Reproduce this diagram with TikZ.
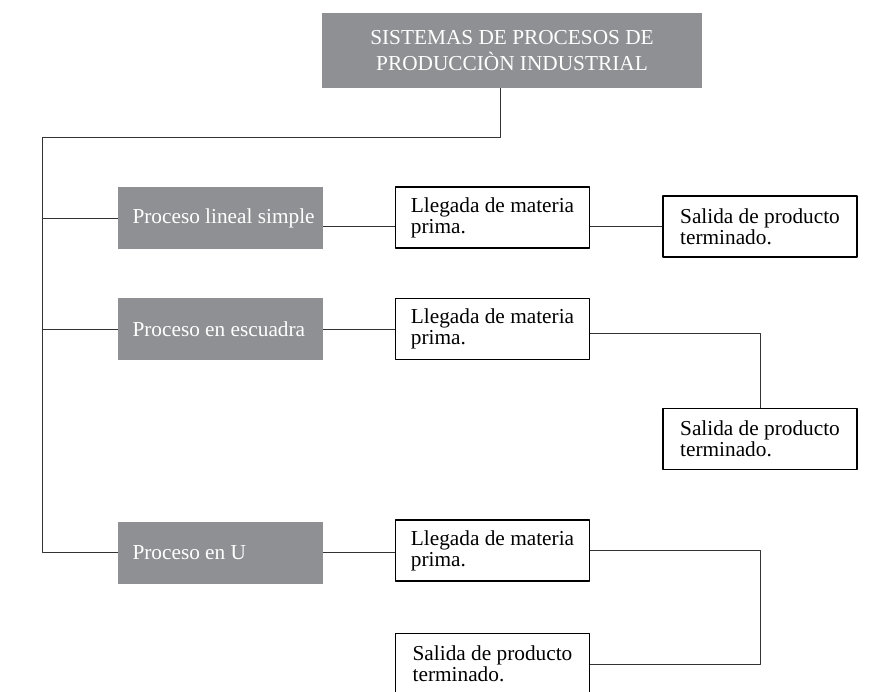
\documentclass[tikz,border=0pt]{standalone}
\usepackage{fontspec}
\setmainfont{Liberation Serif}
\definecolor{gris}{RGB}{142,144,147}
\begin{document}
\begin{tikzpicture}[x=1pt,y=-1pt,line join=round,
	chu/.style={font=\fontsize{21.3}{21}\selectfont},
	tieude/.style={fill=gris,text=white,minimum width=380pt,minimum height=75pt,align=center,font=\fontsize{21.3}{26}\selectfont},
	proceso/.style={chu,fill=gris,text=white,inner xsep=7.5pt,minimum height=62pt,
		execute at begin node={\hbox to 190pt\bgroup\hskip 7pt},execute at end node={\hfil\egroup}},
	caja/.style={chu,draw,line width=1.1pt,minimum width=194pt,minimum height=61pt,align=left},
	noi/.style={draw=black!80,line width=0.9pt}]
	\useasboundingbox (0,0) rectangle (869,691);
	% tieu de
	\node[tieude] (T) at (512,50.5) {SISTEMAS DE PROCESOS DE\\PRODUCCIÒN INDUSTRIAL};
	% cac loai quy trinh
	\node[proceso] (P1) at (220.5,218) {Proceso lineal simple};
	\node[proceso] (P2) at (220.5,329) {Proceso en escuadra};
	\node[proceso] (P3) at (220.5,552.5) {Proceso en U};
	% dau vao
	\node[caja] (L1) at (492.5,217.5) {Llegada de materia\\prima.};
	\node[caja] (L2) at (492.5,329) {Llegada de materia\\prima.};
	\node[caja] (L3) at (492.5,550.5) {Llegada de materia\\prima.};
	% dau ra
	\node[caja] (S1) at (760,226.5) {Salida de producto\\terminado.};
	\node[caja] (S2) at (760,439) {Salida de producto\\terminado.};
	\node[caja] (S3) at (492.5,664) {Salida de producto\\terminado.};
	% duong noi
	\coordinate (G) at (42,137);
	\draw[noi] ([xshift=-12pt]T.south) |- (G) |- (P3.west);
	\draw[noi] (G |- P1.west) -- (P1.west) (G |- P2.west) -- (P2.west);
	\draw[noi] (P1.east |- S1.west) -- (L1.west |- S1.west) (L1.east |- S1.west) -- (S1.west);
	\draw[noi] (P2.east) -- (L2.west) ([yshift=-4pt]L2.east) -| (S2.north);
	\draw[noi] (P3.east) -- (P3.east -| L3.west) (L3.east) -| (S2.north |- S3.east) -- (S3.east);
\end{tikzpicture}
\end{document}
